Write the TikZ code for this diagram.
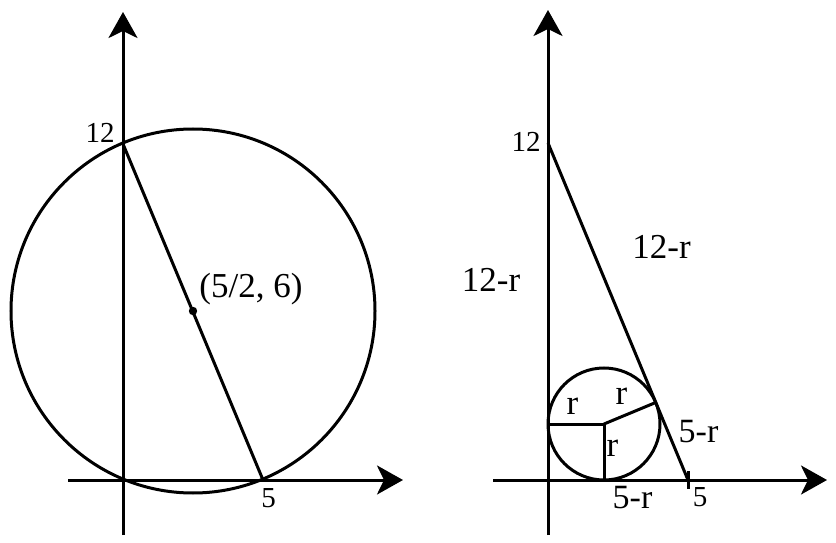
\documentclass[tikz,border=0pt]{standalone}
\usepackage{fontspec}
\setmainfont{Liberation Serif}
\usetikzlibrary{arrows.meta}
\begin{document}
\begin{tikzpicture}[x=1pt,y=1pt,
  axis/.style={line width=3pt,-{Stealth[length=26pt,width=29pt,inset=7pt]}},
  geo/.style={line width=3pt},
  lbl/.style={inner sep=0pt,font=\fontsize{29}{29}\selectfont},
  biglbl/.style={inner sep=0pt,font=\fontsize{35}{35}\selectfont},
  midlbl/.style={inner sep=0pt,font=\fontsize{34}{34}\selectfont}]
\useasboundingbox (0,0) rectangle (836,542);
% ---------- left panel ----------
\coordinate (Lyb) at (123,7);
\coordinate (Lyt) at (123,530);
\coordinate (Lxl) at (68,62);
\coordinate (Lxr) at (403,62);
\coordinate (LO) at (123,62);
\coordinate (LA) at (123,398);
\coordinate (LB) at (263,62);
\coordinate (LC) at (193,231);
\draw[axis] (Lyb) -- (Lyt);
\draw[axis] (Lxl) -- (Lxr);
\draw[geo] (LC) circle[radius=182];
\draw[geo] (LA) -- (LB);
\fill (LC) circle[radius=4.2];
\node[lbl] (l12) at (100,409) {12};
\node[lbl] (l5) at (268.5,44) {5};
\node[biglbl] (lc) at (251,253) {(5/2, 6)};
% ---------- right panel ----------
\coordinate (Ryb) at (548,7);
\coordinate (Ryt) at (548,532);
\coordinate (Rxl) at (493,62);
\coordinate (Rxr) at (827,62);
\coordinate (RA) at (548,399);
\coordinate (RB) at (688,62);
\coordinate (RC) at (604,118);
\coordinate (RTl) at (548,118);
\coordinate (RTb) at (604,62);
\coordinate (RTh) at (655.7,139.5);
\coordinate (Rtk1) at (688,71);
\coordinate (Rtk2) at (688,53);
\draw[axis] (Ryb) -- (Ryt);
\draw[axis] (Rxl) -- (Rxr);
\draw[geo] (RA) -- (RB);
\draw[geo] (Rtk1) -- (Rtk2);
\draw[geo] (RC) circle[radius=56];
\draw[geo] (RTl) -- (RC) -- (RTb);
\draw[geo] (RC) -- (RTh);
\node[lbl] (r12) at (526,400) {12};
\node[biglbl] (r12ra) at (661.5,295) {12-r};
\node[biglbl] (r12rb) at (491,262) {12-r};
\node[biglbl] (rra) at (572.5,135.5) {r};
\node[biglbl] (rrb) at (621.5,146) {r};
\node[biglbl] (rrc) at (612.5,93.5) {r};
\node[midlbl] (r5ra) at (698.5,110.5) {5-r};
\node[midlbl] (r5rb) at (632.5,44) {5-r};
\node[lbl] (r5) at (700,44.5) {5};
\end{tikzpicture}
\end{document}
